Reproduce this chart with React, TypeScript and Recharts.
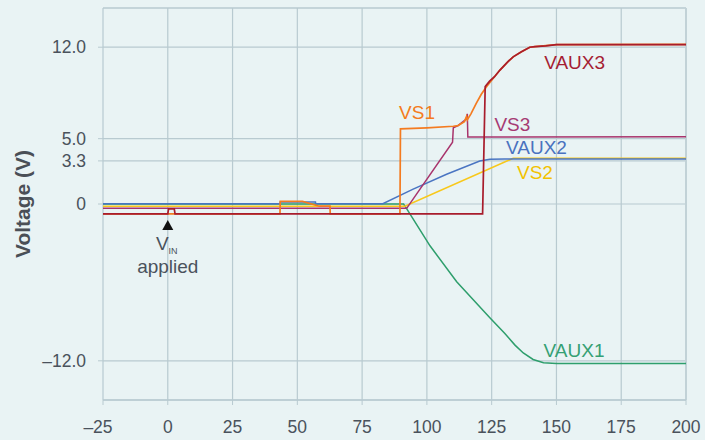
import React from 'react';
import { LineChart, Line, XAxis, YAxis, CartesianGrid, ReferenceLine, ReferenceDot } from 'recharts';

// ---- data (time on x, voltage on y) ----
const X_TICKS = [-25, 0, 25, 50, 75, 100, 125, 150, 175, 200];
const Y_TICKS = [-12, 0, 3.3, 5, 12];

const VAUX1_T = [-25, 91, 92, 101.2, 111.5, 124.3, 130, 134, 137.2, 141, 145, 150, 200];
const VAUX1_V = [0.0, 0.0, -0.3, -3.2, -5.95, -8.7, -9.9, -10.8, -11.4, -11.9, -12.15, -12.2, -12.2];

const VS2_T = [-25, 91.5, 133.3, 200];
const VS2_V = [-0.17, -0.17, 3.5, 3.5];

const VAUX2_T = [-25, 43.3, 43.4, 57, 57.1, 83, 94.7, 107.6, 120.4, 124.3, 130, 200];
const VAUX2_V = [0.02, 0.02, 0.15, 0.15, 0.02, 0.02, 1.14, 2.28, 3.29, 3.43, 3.45, 3.45];

const VS3_T = [-25, 92.2, 109.9, 110.2, 112, 115.2, 115.6, 115.8, 120, 200];
const VS3_V = [-0.33, -0.33, 4.73, 5.83, 6.0, 6.5, 6.9, 5.12, 5.12, 5.14];

const VS1_T = [-25, 43.3, 43.4, 52, 58.5, 62.6, 62.7, 89.6, 89.8, 100, 110.2, 112, 114.5, 115.3, 115.6, 117, 119.1, 121, 123, 126.1, 128.2, 131.3, 133.3, 136.5, 139.7, 141.7, 145.9, 150, 200];
const VS1_V = [-0.76, -0.76, 0.2, 0.2, -0.17, -0.17, -0.76, -0.76, 5.75, 5.83, 5.95, 6.0, 6.3, 6.7, 6.45, 6.9, 7.72, 8.4, 8.98, 9.74, 10.25, 10.9, 11.26, 11.65, 12.0, 12.05, 12.12, 12.2, 12.22];

const VAUX3_T = [-25, 0, 0.3, 2.5, 2.8, 121.5, 122.5, 124.2, 126.1, 128.2, 131.3, 133.3, 136.5, 139.7, 141.7, 145.9, 150, 200];
const VAUX3_V = [-0.76, -0.76, -0.38, -0.38, -0.76, -0.76, 8.98, 9.4, 9.74, 10.25, 10.9, 11.26, 11.65, 12.0, 12.05, 12.1, 12.2, 12.2];

const zip = (t: number[], v: number[]) => t.map((x, i) => ({ t: x, v: v[i] }));

const SERIES = [
  { name: 'VAUX1', color: '#2E9E6C', width: 1.5, data: zip(VAUX1_T, VAUX1_V) },
  { name: 'VS2', color: '#F8C81A', width: 1.5, data: zip(VS2_T, VS2_V) },
  { name: 'VAUX2', color: '#4A75C2', width: 1.5, data: zip(VAUX2_T, VAUX2_V) },
  { name: 'VS3', color: '#A8346C', width: 1.5, data: zip(VS3_T, VS3_V) },
  { name: 'VS1', color: '#F47B20', width: 1.7, data: zip(VS1_T, VS1_V) },
  { name: 'VAUX3', color: '#A81C2C', width: 1.7, data: zip(VAUX3_T, VAUX3_V) },
];

// series labels: name, anchor (t, v), colour
const LABELS = [
  { text: 'VAUX3', t: 157.0, v: 10.31, color: '#A51D33' },
  { text: 'VS1', t: 96.2, v: 6.48, color: '#F47B20' },
  { text: 'VS3', t: 133.0, v: 5.61, color: '#A63A73' },
  { text: 'VAUX2', t: 142.3, v: 3.83, color: '#4A72BF' },
  { text: 'VS2', t: 141.7, v: 1.89, color: '#F2C200' },
  { text: 'VAUX1', t: 156.8, v: -11.69, color: '#35A073' },
];

const BG = '#E9F3F4';
const GRID = '#B8CAD0';
const TEXT = '#4A525C';
const FONT = '"Liberation Sans", Arial, Helvetica, sans-serif';

const fmtY = (v: number) => (v === 0 ? '0' : v < 0 ? '\u2013' + Math.abs(v).toFixed(1) : v.toFixed(1));

const XTick = (props: any) => {
  const { x, y, payload } = props;
  const val = payload.value as number;
  const label = val < 0 ? '\u2013' + Math.abs(val) : String(val);
  return (
    <text x={x} y={y} dx={val < 0 ? -5 : 0} dy="0.71em" textAnchor="middle" fill={TEXT} fontSize={17.5} fontFamily={FONT}>
      {label}
    </text>
  );
};

export default function App() {
  return (
    <div style={{ position: 'absolute', left: 0, top: 0, width: 705, height: 440, background: BG }}>
      <LineChart width={705} height={440} margin={{ top: 8, right: 19, bottom: 0, left: 0 }}>
        <CartesianGrid stroke={GRID} strokeWidth={1.2} />
        <XAxis
          dataKey="t"
          type="number"
          domain={[-25, 200]}
          ticks={X_TICKS}
          interval={0}
          allowDataOverflow
          height={40}
          tickSize={5}
          tickMargin={16}
          stroke={GRID}
          tickLine={{ stroke: GRID }}
          axisLine={{ stroke: GRID, strokeWidth: 1.5 }}
          tick={<XTick />}
        />
        <YAxis
          type="number"
          domain={[-15, 15]}
          ticks={Y_TICKS}
          interval={0}
          allowDataOverflow
          width={103}
          tickSize={5}
          tickMargin={12}
          axisLine={false}
          tickLine={{ stroke: GRID }}
          tickFormatter={fmtY}
          tick={{ fill: TEXT, fontSize: 17.5, fontFamily: FONT }}
          label={{
            value: 'Voltage (V)',
            angle: -90,
            position: 'insideLeft',
            dx: 18,
            style: { fill: '#4A4F56', fontSize: 21, fontWeight: 'bold', fontFamily: FONT, textAnchor: 'middle' },
          }}
        />
        <ReferenceLine y={15} stroke={GRID} strokeWidth={1.2} />
        <ReferenceLine x={200} stroke="#C2D2D7" strokeWidth={2} />
        {SERIES.map((s) => (
          <Line
            key={s.name}
            data={s.data}
            dataKey="v"
            type="linear"
            stroke={s.color}
            strokeWidth={s.width}
            dot={false}
            isAnimationActive={false}
          />
        ))}
        {LABELS.map((l) => (
          <ReferenceDot
            key={l.text}
            x={l.t}
            y={l.v}
            r={0}
            ifOverflow="visible"
            shape={(p: any) => (
              <text x={p.cx} y={p.cy} textAnchor="middle" fill={l.color} fontSize={19} fontFamily={FONT}>
                {l.text}
              </text>
            )}
          />
        ))}
        <ReferenceDot
          x={0}
          y={-1.22}
          r={0}
          ifOverflow="visible"
          shape={(p: any) => (
            <g>
              <path d={`M${p.cx},${p.cy} L${p.cx + 5.5},${p.cy + 10} L${p.cx - 5.5},${p.cy + 10} Z`} fill="#111" />
              <text x={p.cx - 1} y={p.cy + 30} textAnchor="middle" fill={TEXT} fontSize={19} fontFamily={FONT}>
                V<tspan fontSize={9} dy={4}>IN</tspan>
              </text>
              <text x={p.cx} y={p.cy + 53} textAnchor="middle" fill={TEXT} fontSize={19} fontFamily={FONT}>
                applied
              </text>
            </g>
          )}
        />
      </LineChart>
    </div>
  );
}
